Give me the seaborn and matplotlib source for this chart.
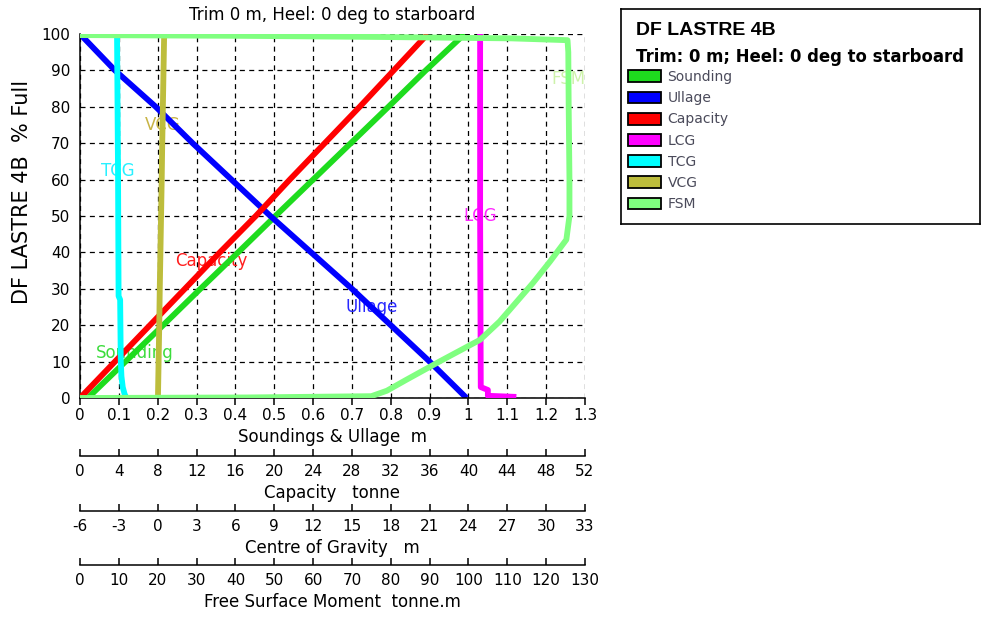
import matplotlib
matplotlib.use("Agg")
import matplotlib.pyplot as plt
from matplotlib.patches import Patch
from matplotlib.ticker import MultipleLocator, FuncFormatter
import numpy as np
import pandas as pd
import seaborn as sns

# ---- text ----
TANK = "DF LASTRE 4B"
TITLE = "Trim 0 m, Heel: 0 deg to starboard"
LEGEND_SUB = "Trim: 0 m; Heel: 0 deg to starboard"

series_names = ["Sounding", "Ullage", "Capacity", "LCG", "TCG", "VCG", "FSM"]
series_colors = ["#1EDC1E", "#0000FF", "#FF0000", "#FF00FF", "#00FFFF", "#BDBD3C", "#80FF80"]
label_colors = ["#3CDC3C", "#2828FF", "#FF1E1E", "#FF28FF", "#28F0FF", "#C8B446", "#CDF2AA"]

# ---- tank table (% full vs. value) ----
pct_full = [0, 10, 20, 30, 40, 50, 60, 70, 80, 90, 100]
sounding_m = [0.02, 0.117, 0.214, 0.31, 0.407, 0.503, 0.60, 0.697, 0.794, 0.89, 0.99]
ullage_m = [0.995, 0.90, 0.80, 0.70, 0.595, 0.49, 0.39, 0.29, 0.195, 0.09, 0.0]
capacity_t = [0.0, 3.6, 7.2, 10.8, 14.4, 18.1, 21.6, 25.2, 28.8, 32.3, 35.8]
vcg_m = [0.02, 0.07, 0.12, 0.16, 0.21, 0.26, 0.31, 0.35, 0.40, 0.45, 0.50]

lcg_pct = [0.3, 0.6, 2.2, 3.0, 50, 100]
lcg_m = [27.7, 25.5, 25.5, 24.95, 24.9, 24.9]

tcg_pct = [0, 1, 3, 6, 10, 27, 28, 60, 100]
tcg_m = [-2.4, -2.55, -2.7, -2.8, -2.85, -2.9, -3.02, -3.06, -3.14]

fsm_pct = [0, 0.15, 0.5, 2, 5, 10, 16, 21, 31.6, 37.5, 43.5, 50, 60, 80, 95,
           98.3, 98.8, 99.2, 99.5, 99.7]
fsm_tm = [0, 43, 75, 79, 84, 92.5, 103, 108, 116.6, 121, 125.2, 126, 126, 125.8, 125.7,
          125.5, 111, 76, 41, 0]

# ---- axis scales ----
sounding_ticks = np.round(np.arange(0, 1.31, 0.1), 1)
capacity_lim, capacity_step = (0, 52), 4
cog_lim, cog_step = (-6, 33), 3
fsm_lim, fsm_step = (0, 130), 10

sns.set_style("white")
plt.rcParams["font.family"] = ["DejaVu Sans"]
plt.rcParams["axes.unicode_minus"] = False
plt.rcParams["text.color"] = "black"
plt.rcParams["axes.labelcolor"] = "black"

W, H = 985, 619
fig = plt.figure(figsize=(W / 100, H / 100), dpi=100)
AX_L, AX_R, AX_T, AX_B = 80, 585, 34, 398
ax = fig.add_axes([AX_L / W, 1 - AX_B / H, (AX_R - AX_L) / W, (AX_B - AX_T) / H])
ax_h = AX_B - AX_T

gfmt = FuncFormatter(lambda v, _: f"{round(v, 6):g}")

ax.set_xlim(0, 1.3)
ax.set_ylim(0, 100)
ax.set_xticks(sounding_ticks)
ax.xaxis.set_major_formatter(gfmt)
ax.yaxis.set_major_locator(MultipleLocator(10))
ax.set_axisbelow(True)
ax.grid(True, color="black", linestyle=(0, (4, 3.5)), linewidth=0.9)
for s in ("top", "right"):
    ax.spines[s].set_visible(False)
for s in ("left", "bottom"):
    ax.spines[s].set_color("black")
    ax.spines[s].set_linewidth(1.1)
ax.tick_params(axis="both", direction="out", length=5, width=1.1, colors="black",
               labelsize=11, pad=2)
ax.set_xlabel("Soundings & Ullage  m", fontsize=12, labelpad=4)
ax.set_title(TITLE, fontsize=12, pad=10)
fig.text(22 / W, 1 - 192 / H, f"{TANK}  % Full", rotation=90, ha="center", va="center",
         fontsize=15)


def scale_axis(lims, step, line_px, label):
    t = ax.twiny()
    t.set_xlim(*lims)
    for s in ("top", "left", "right"):
        t.spines[s].set_visible(False)
    sp = t.spines["bottom"]
    sp.set_visible(True)
    sp.set_position(("axes", -(line_px - AX_B) / ax_h))
    sp.set_linewidth(1.1)
    sp.set_color("black")
    t.xaxis.set_ticks_position("bottom")
    t.xaxis.set_label_position("bottom")
    t.xaxis.set_major_locator(MultipleLocator(step))
    t.xaxis.set_major_formatter(gfmt)
    t.tick_params(axis="x", direction="in", length=5, width=1.1, pad=5.5, labelsize=11,
                  colors="black")
    t.set_xlabel(label, fontsize=12, labelpad=4)
    return t


ax_cap = scale_axis(capacity_lim, capacity_step, 456, "Capacity   tonne")
ax_cog = scale_axis(cog_lim, cog_step, 511, "Centre of Gravity   m")
ax_fsm = scale_axis(fsm_lim, fsm_step, 565, "Free Surface Moment  tonne.m")

# each curve is drawn on the axis of its own unit
curves = [
    ("Sounding", ax, pct_full, sounding_m),
    ("Ullage", ax, pct_full, ullage_m),
    ("Capacity", ax_cap, pct_full, capacity_t),
    ("LCG", ax_cog, lcg_pct, lcg_m),
    ("TCG", ax_cog, tcg_pct, tcg_m),
    ("VCG", ax_cog, pct_full, vcg_m),
    ("FSM", ax_fsm, fsm_pct, fsm_tm),
]

for i, (name, target, pcts, vals) in enumerate(curves):
    df = pd.DataFrame({"value": vals, "pct": pcts})
    sns.lineplot(data=df, x="value", y="pct", ax=target, orient="y", estimator=None,
                 color=series_colors[i], linewidth=4.2, solid_capstyle="butt",
                 legend=False)
    # curve name written along the curve, beneath the lines
    level = 12.5 * (i + 1)
    xpos = np.interp(level, pcts, vals)
    ax.text(xpos, level, name, transform=target.transData, ha="center", va="center",
            fontsize=12, color=label_colors[i], zorder=1.5)

for t in (ax_cap, ax_cog, ax_fsm):
    t.set_ylim(0, 100)
    t.set_ylabel("")
ax.set_ylabel("")

# ---- legend panel ----
LX0, LY0, LX1, LY1 = 621, 9, 980, 224
lw_, lh_ = LX1 - LX0, LY1 - LY0
lax = fig.add_axes([LX0 / W, 1 - LY1 / H, lw_ / W, lh_ / H])
lax.set_xticks([])
lax.set_yticks([])
for s in lax.spines.values():
    s.set_visible(True)
    s.set_color("black")
    s.set_linewidth(1.2)
lax.text(15 / lw_, 1 - 21.5 / lh_, TANK, transform=lax.transAxes, ha="left", va="center",
         fontsize=14, fontweight="bold", family=["Liberation Sans", "DejaVu Sans"])
lax.text(15 / lw_, 1 - 48.5 / lh_, LEGEND_SUB, transform=lax.transAxes, ha="left",
         va="center", fontsize=11.9, fontweight="bold")
handles = [Patch(facecolor=c, edgecolor="black", linewidth=1.3) for c in series_colors]
fs_px = 10 * 100 / 72
leg = lax.legend(handles, series_names, loc="upper left",
                 bbox_to_anchor=(6.5 / lw_, 1 - 61 / lh_), borderaxespad=0, borderpad=0,
                 frameon=False, fontsize=10, handlelength=33 / fs_px,
                 handleheight=13 / fs_px, handletextpad=7 / fs_px, labelspacing=0.52)
for txt in leg.get_texts():
    txt.set_color("#4a4a5a")

fig.savefig("out.png", dpi=100)
